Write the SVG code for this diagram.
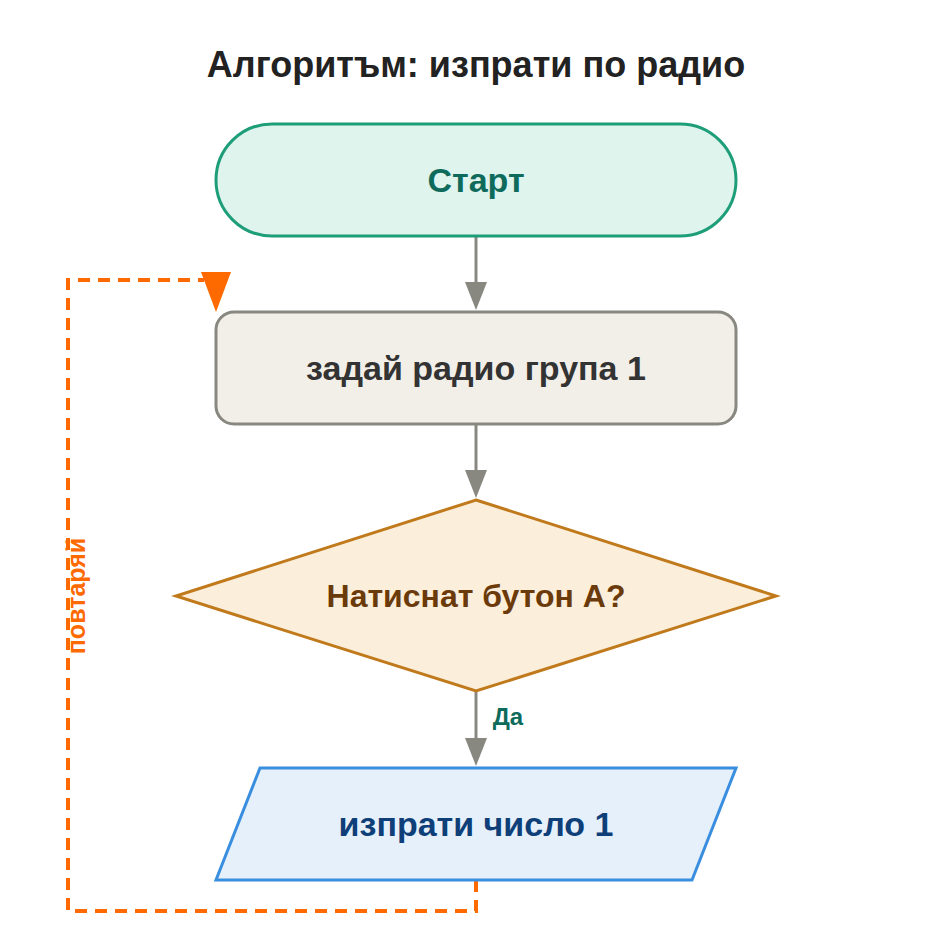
<svg xmlns="http://www.w3.org/2000/svg" width="952" height="944" viewBox="0 0 952 944">
<style>
text{font-family:"Liberation Sans",Arial,sans-serif;font-weight:bold;text-anchor:middle;dominant-baseline:central}
.ln{stroke:#888880;stroke-width:3;fill:none}
</style>
<rect width="952" height="944" fill="#fff"/>
<text x="476" y="64" font-size="36" fill="#222">Алгоритъм: изпрати по радио</text>
<g id="connectors">
<path class="ln" d="M476,236V290"/><path d="M465,282L476,310L487,282z" fill="#888880"/>
<path class="ln" d="M476,424V480"/><path d="M465,470L476,498L487,470z" fill="#888880"/>
<path class="ln" d="M476,690V748"/><path d="M465,738L476,766L487,738z" fill="#888880"/>
<text x="508" y="716" font-size="24" fill="#0e6b5c">Да</text>
<path d="M476,880V911H68V280H204" stroke="#ff6a00" stroke-width="4" stroke-dasharray="12,8" fill="none"/>
<path d="M201,272L231,272L216,312z" fill="#ff6a00"/>
<text x="0" y="0" font-size="25" fill="#ff6a00" transform="translate(76,596) rotate(-90)">повтаряй</text>
</g>
<g id="start"><rect x="216" y="124" width="520" height="112" rx="56" fill="#e0f4ee" stroke="#1e9e78" stroke-width="3"/><text x="476" y="180" font-size="34" fill="#0e6b5c">Старт</text></g>
<g id="group"><rect x="216" y="312" width="520" height="112" rx="18" fill="#f2efe8" stroke="#888880" stroke-width="3"/><text x="476" y="368" font-size="34" fill="#333">задай радио група 1</text></g>
<g id="decision"><path d="M476,500L776,596L476,691L176,596z" fill="#fbeedb" stroke="#c07a1c" stroke-width="3"/><text x="476" y="596" font-size="32" fill="#6b3a0a">Натиснат бутон A?</text></g>
<g id="send"><path d="M260,768H736L692,880H216z" fill="#e6f0fb" stroke="#3a8ee0" stroke-width="3"/><text x="476" y="824" font-size="34" fill="#0f3f78">изпрати число 1</text></g>
</svg>
